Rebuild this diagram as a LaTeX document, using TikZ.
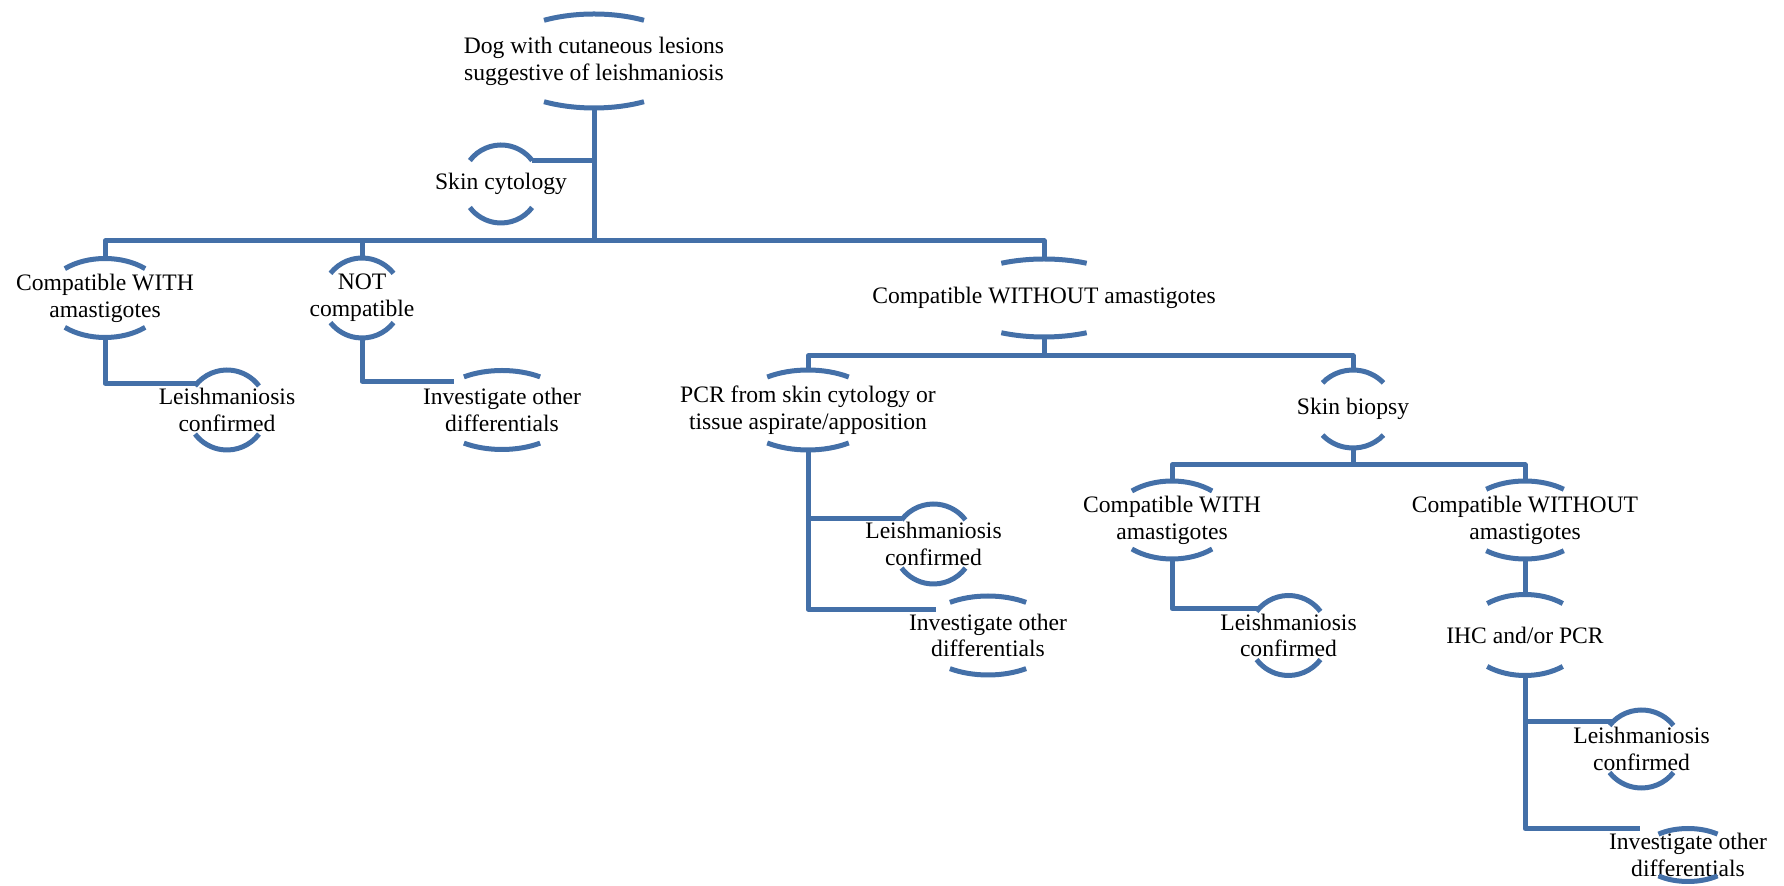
\documentclass[tikz,border=0pt]{standalone}
\usepackage{fontspec}
\setmainfont{Liberation Serif}
\usetikzlibrary{shapes.geometric}
\definecolor{arcblue}{HTML}{4470A8}
\tikzset{
  txt/.style={align=center, inner sep=0pt, font=\fontsize{11.8}{13.4}\selectfont, text=black},
  arcline/.style={draw=arcblue, line width=2.5pt, line cap=butt},
  conn/.style={draw=arcblue, line width=2.5pt, line join=round},
  shp/.style={shape=ellipse, draw=none, inner sep=0pt, outer sep=0pt}
}
% #1 name, #2 cx, #3 cy, #4 a, #5 b, #6 phi, #7 text
\newcommand\archnode[7]{%
  \node[shp, minimum width=#4pt, minimum height=#5pt] (#1) at (#2,#3) {};
  \node[txt] (#1-t) at (#2,#3) {#7};
  \draw[arcline] (#1.center) ++({-#4*cos(#6)},{-#5*sin(#6)})
     arc[start angle=180+#6, end angle=360-#6, x radius=#4, y radius=#5];
  \draw[arcline] (#1.center) ++({#4*cos(#6)},{#5*sin(#6)})
     arc[start angle=#6, end angle=180-#6, x radius=#4, y radius=#5];
}
\begin{document}
\begin{tikzpicture}[x=0.5pt,y=-0.5pt]
\useasboundingbox (0,0) rectangle (1784,886);
\archnode{root}{594}{61}{100}{47}{60}{Dog with cutaneous lesions\\suggestive of leishmaniosis}
\archnode{cyto}{501}{184}{39}{39}{37}{Skin cytology}
\archnode{with1}{105}{298}{60}{39.5}{48}{Compatible WITH\\amastigotes}
\archnode{not1}{362}{298}{40}{40}{38}{NOT\\compatible}
\archnode{without1}{1044}{298}{94}{39}{63}{Compatible WITHOUT amastigotes}
\archnode{leish1}{227}{410}{40}{40}{37}{Leishmaniosis\\confirmed}
\archnode{inv1}{502}{410}{70}{39.5}{57}{Investigate other\\differentials}
\archnode{pcr}{808}{410}{72}{40}{55.5}{PCR from skin cytology or\\tissue aspirate/apposition}
\archnode{biopsy}{1353}{409}{41}{39}{42}{Skin biopsy}
\archnode{leish2}{933.5}{544}{40}{40}{37}{Leishmaniosis\\confirmed}
\archnode{with2}{1172}{520}{60}{39}{48}{Compatible WITH\\amastigotes}
\archnode{without2}{1525}{520}{63}{39}{52}{Compatible WITHOUT\\amastigotes}
\archnode{inv2}{988}{635.5}{70}{39.5}{57}{Investigate other\\differentials}
\archnode{leish3}{1288.5}{635.5}{40}{40}{37}{Leishmaniosis\\confirmed}
\archnode{ihc}{1525}{635}{60}{40.5}{51}{IHC and/or PCR}
\archnode{leish4}{1641.5}{749}{40}{39}{37}{Leishmaniosis\\confirmed}
\archnode{inv3}{1688}{855}{48}{26.5}{52}{Investigate other\\differentials}

\coordinate (bus1) at (594,241);
\coordinate (bus2) at (1044,356);
\coordinate (bus3) at (1353,465);

\draw[conn] (root.south) -- (bus1);
\draw[conn] (cyto.37) -- (cyto.37 -| root.south);
\draw[conn] (bus1) -| (with1.north);
\draw[conn] (bus1) -| (not1.north);
\draw[conn] (bus1) -| (without1.north);
\draw[conn] (with1.south) |- (leish1.138);
\draw[conn] (not1.south) |- (inv1.149);
\draw[conn] (without1.south) -- (bus2);
\draw[conn] (bus2) -| (pcr.north);
\draw[conn] (bus2) -| (biopsy.north);
\draw[conn] (pcr.south) |- (leish2.141);
\draw[conn] (pcr.south) |- (inv2.153);
\draw[conn] (biopsy.south) -- (bus3);
\draw[conn] (bus3) -| (with2.north);
\draw[conn] (bus3) -| (without2.north);
\draw[conn] (with2.south) |- (leish3.138);
\draw[conn] (without2.south) -- (ihc.north);
\draw[conn] (ihc.south) |- (leish4.136);
\draw[conn] (ihc.south) |- (inv3.north -| inv3.west);
\end{tikzpicture}
\end{document}
